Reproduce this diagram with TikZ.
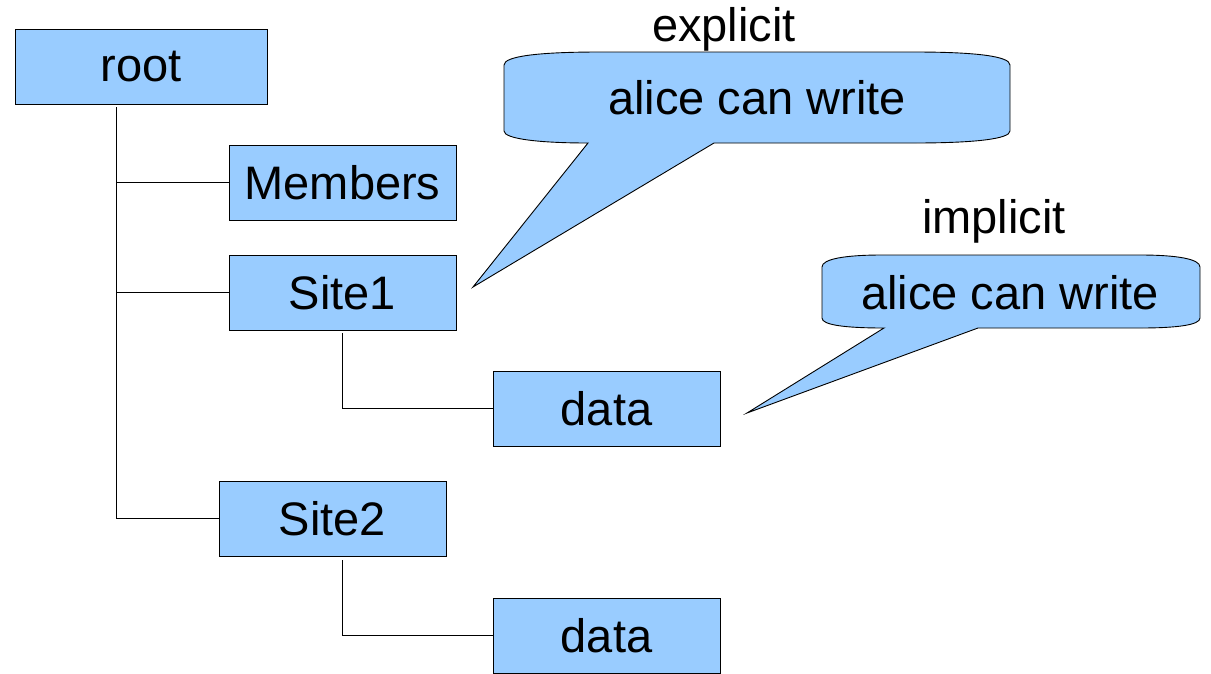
\documentclass[tikz,border=0pt]{standalone}
\usepackage{fontspec}
\setmainfont{Liberation Sans}
\definecolor{boxblue}{HTML}{99CCFF}
\begin{document}
\begin{tikzpicture}[x=1pt,y=-1pt,
  box/.style={draw=black, fill=boxblue, line width=0.9pt, inner sep=0pt, minimum height=75pt},
  txt/.style={inner sep=0pt},
  conn/.style={draw=black, line width=0.9pt},
  bubble/.style={draw=black, fill=boxblue, line width=0.9pt, line join=miter}]
\tikzset{every node/.append style={font=\fontsize{47}{56}\selectfont}}
\useasboundingbox (0,0) rectangle (1211,673);
% callout 1 (explicit)
\coordinate (tip1) at (473,287);
\path[bubble] (504,65) .. controls (504,56) and (540,52) .. (600,52) -- (914,52)
  .. controls (974,52) and (1010,56) .. (1010,65) -- (1010,131)
  .. controls (1010,139) and (974,143) .. (914,143) -- (714,143) -- (tip1) -- (588,143)
  .. controls (540,143) and (504,139) .. (504,131) -- cycle;
\node[txt] (alice1) at (757,98) {alice can write};
\node[txt] (explicit) at (724,29) {explicit};
% callout 2 (implicit)
\coordinate (tip2) at (747,413);
\path[bubble] (822,267) .. controls (822,259) and (845,255) .. (882,255) -- (1140,255)
  .. controls (1177,255) and (1200,259) .. (1200,267) -- (1200,318)
  .. controls (1200,325) and (1177,328) .. (1140,328) -- (978,328) -- (tip2) -- (884,328)
  .. controls (845,328) and (822,325) .. (822,318) -- cycle;
\node[txt] (alice2) at (1010,293) {alice can write};
\node[txt] (implicit) at (994,221) {implicit};
% tree boxes
\node[box, minimum width=252pt] (root) at (141,66.5) {root};
\node[box, minimum width=227pt] (members) at (342.5,182.5) {Members};
\node[box, minimum width=227pt] (site1) at (342.5,292.5) {Site1};
\node[box, minimum width=227pt] (data1) at (606.5,408.5) {data};
\node[box, minimum width=227pt] (site2) at (332.5,518.5) {Site2};
\node[box, minimum width=227pt] (data2) at (606.5,635.5) {data};
% connectors
\coordinate (trunk) at ([xshift=-25pt,yshift=-3pt]root.south);
\draw[conn] (trunk) |- (members.west);
\draw[conn] (trunk) |- (site1.west);
\draw[conn] (trunk) |- (site2.west);
\draw[conn] ([yshift=-3pt]site1.south) |- (data1.west);
\draw[conn] ([xshift=10pt,yshift=-4pt]site2.south) |- (data2.west);
\end{tikzpicture}
\end{document}
